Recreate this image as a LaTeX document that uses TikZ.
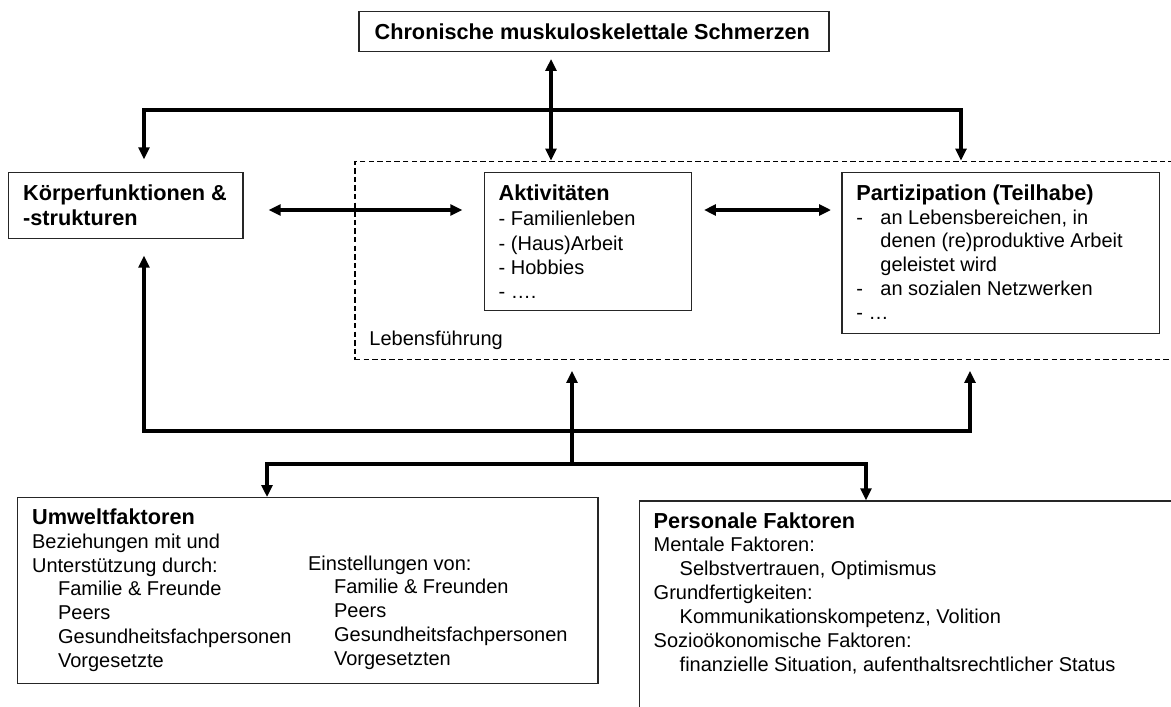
\documentclass[tikz,border=0pt]{standalone}
\usepackage{fontspec}
\setmainfont{Liberation Sans}
\usetikzlibrary{arrows.meta,fit}

% left-aligned stack of lines whose baseline is that of the first line
\newcommand\rowsof[2][12pt]{\vtop{\baselineskip=#1\relax\lineskip=0pt\lineskiplimit=-\maxdimen\halign{##\hfil\cr#2\crcr}}}
\newcommand\hd[1]{{\fontsize{10.85pt}{13pt}\selectfont\bfseries #1}}
\newcommand\ind{\hskip13pt}
\newcommand\dashitem{\hbox to 12pt{-\hfil}}

\tikzset{
  box/.style={draw=black!85, line width=0.65pt, inner sep=0pt},
  lebenbox/.style={draw=black, line width=0.8pt, dash pattern=on 2.7pt off 1.6pt, inner sep=0pt},
  txt/.style={inner sep=0pt, anchor=base west, font=\fontsize{10pt}{12pt}\selectfont},
  link/.style={line width=1.6pt, -{Triangle[length=6pt,width=5.4pt]}},
  twoway/.style={line width=1.6pt, {Triangle[length=6pt,width=5.4pt]}-{Triangle[length=6pt,width=5.4pt]}},
}

\begin{document}
\begin{tikzpicture}[x=0.5pt,y=-0.5pt]
\useasboundingbox (0,0) rectangle (1171,706);
\clip (0,0) rectangle (1171,706);

% frames
\node[box, fit={(359,11.7) (829,51.5)}] (pain) {};
\node[box, fit={(8.3,172.7) (243,238.5)}] (koerper) {};
\node[lebenbox, fit={(355,161.5) (1190,359.5)}] (leben) {};
\node[box, fit={(484.7,172.7) (691.3,310.7)}] (akt) {};
\node[box, fit={(842,172.7) (1159.3,333.3)}] (part) {};
\node[box, fit={(17.3,497.7) (598,683.3)}] (umwelt) {};
\node[box, fit={(639.3,501) (1190,730)}] (personal) {};

% texts
\node[txt, anchor=base] (painT) at (592.3,39.3) {\hd{Chronische muskuloskelettale Schmerzen}};
\node[txt] (koerperT) at (22.7,200) {\rowsof[12.85pt]{\hd{Körperfunktionen \&}\cr\hd{-strukturen}}};
\node[txt] (aktT) at (498.3,200) {\hd{Aktivitäten}};
\node[txt] (aktL) at (498.3,225.7) {\rowsof[12.15pt]{- Familienleben\cr- (Haus)Arbeit\cr- Hobbies\cr- ….}};
\node[txt] (partT) at (856,200) {\hd{Partizipation (Teilhabe)}};
\node[txt] (partL) at (856,224) {\rowsof[11.9pt]{\dashitem an Lebensbereichen, in\cr\hskip12pt denen (re)produktive Arbeit\cr\hskip12pt geleistet wird\cr\dashitem an sozialen Netzwerken\cr- …}};
\node[txt] (lebenT) at (369,345) {Lebensführung};
\node[txt] (umweltT) at (31.7,524.3) {\hd{Umweltfaktoren}};
\node[txt] (umweltL) at (31.7,548.3) {\rowsof[11.9pt]{Beziehungen mit und\cr Unterstützung durch:\cr\ind Familie \& Freunde\cr\ind Peers\cr\ind Gesundheitsfachpersonen\cr\ind Vorgesetzte}};
\node[txt] (umweltR) at (307.7,570) {\rowsof[11.95pt]{Einstellungen von:\cr\ind Familie \& Freunden\cr\ind Peers\cr\ind Gesundheitsfachpersonen\cr\ind Vorgesetzten}};
\node[txt] (personalT) at (653.3,528.3) {\hd{Personale Faktoren}};
\node[txt] (personalL) at (653.3,551.7) {\rowsof[12pt]{Mentale Faktoren:\cr\ind Selbstvertrauen, Optimismus\cr Grundfertigkeiten:\cr\ind Kommunikationskompetenz, Volition\cr Sozioökonomische Faktoren:\cr\ind finanzielle Situation, aufenthaltsrechtlicher Status}};

% junctions and connector columns
\coordinate (hubTop) at (551,110);
\coordinate (hubLow) at (572,464);
\coordinate (colK) at (144,0);
\coordinate (colP) at (961,0);
\coordinate (colL) at (970,0);
\coordinate (colU) at (267,0);
\coordinate (colV) at (866,0);
\coordinate (rowMid) at (0,210);
\coordinate (rowBus) at (0,431);

% connectors
\draw[twoway] ([yshift=-3.4pt]pain.south -| hubTop) -- (leben.north -| hubTop);
\draw[link] (hubTop) -| ([yshift=6.3pt]koerper.north -| colK);
\draw[link] (hubTop) -| (leben.north -| colP);
\draw[twoway] ([xshift=12.5pt]koerper.east |- rowMid) -- ([xshift=-10.85pt]akt.west |- rowMid);
\draw[twoway] ([xshift=6pt]akt.east |- rowMid) -- ([xshift=-5.15pt]part.west |- rowMid);
\draw[twoway] ([yshift=-8.25pt]koerper.south -| colK) -- (colK |- rowBus) -- (colL |- rowBus) -- ([yshift=-5.25pt]leben.south -| colL);
\draw[link] (hubLow) -- ([yshift=-5.25pt]leben.south -| hubLow);
\draw[link] (hubLow) -| (umwelt.north -| colU);
\draw[link] (hubLow) -| (personal.north -| colV);
\end{tikzpicture}
\end{document}
